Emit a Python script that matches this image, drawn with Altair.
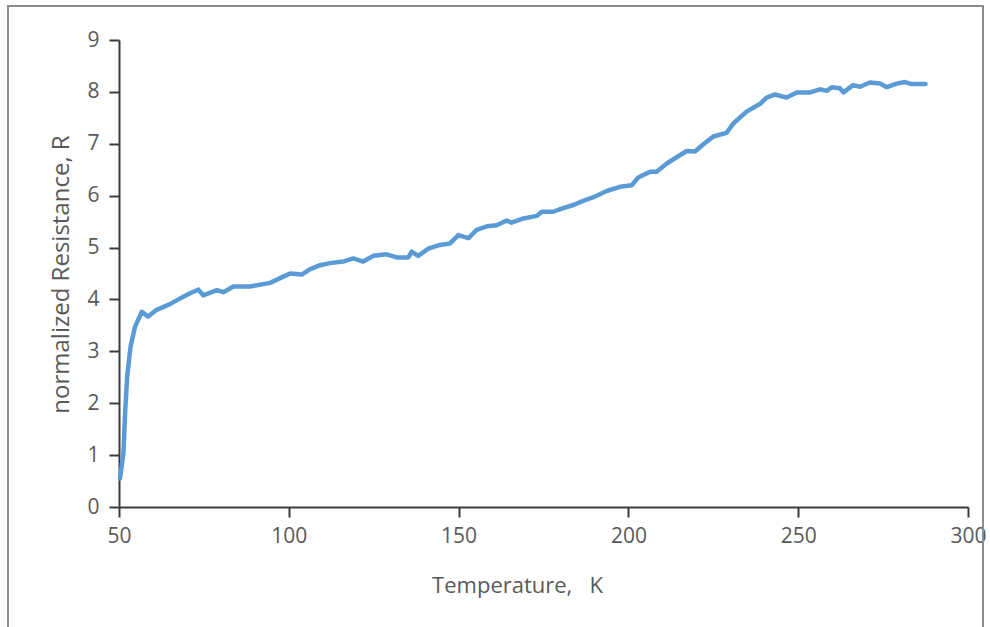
import altair as alt
import pandas as pd

# Temperature (K) and normalized resistance
temperature = [
    50.3, 51.3, 51.8, 52.4, 53.4, 54.7, 56.7, 58.6, 61.1, 65.0, 68.0, 70.9,
    73.4, 74.8, 78.8, 80.7, 83.7, 88.6, 94.5, 98.4, 100.4, 103.8, 106.2,
    109.2, 112.1, 116.0, 119.0, 121.9, 124.9, 128.8, 131.8, 135.2, 136.2,
    138.1, 141.1, 144.5, 147.5, 149.9, 152.9, 155.3, 158.3, 161.2, 164.2,
    165.6, 169.1, 173.0, 174.5, 177.9, 179.9, 183.8, 186.7, 189.7, 193.6,
    197.5, 201.0, 202.9, 206.4, 208.3, 211.3, 214.2, 217.2, 219.6, 222.1,
    225.0, 228.9, 230.9, 234.8, 238.8, 240.7, 243.2, 246.6, 249.6, 253.5,
    256.4, 258.4, 259.9, 262.3, 263.3, 266.2, 268.2, 271.1, 274.1, 276.1,
    279.0, 281.4, 283.4, 287.5,
]
resistance = [
    0.55, 1.03, 1.81, 2.51, 3.09, 3.47, 3.76, 3.67, 3.80, 3.91, 4.02, 4.12,
    4.19, 4.08, 4.18, 4.14, 4.25, 4.25, 4.32, 4.44, 4.50, 4.48, 4.58,
    4.66, 4.70, 4.73, 4.79, 4.73, 4.84, 4.87, 4.81, 4.81, 4.92,
    4.84, 4.98, 5.05, 5.08, 5.24, 5.18, 5.34, 5.41, 5.43, 5.52,
    5.48, 5.56, 5.61, 5.69, 5.69, 5.74, 5.82, 5.90, 5.97, 6.09,
    6.17, 6.20, 6.35, 6.46, 6.46, 6.62, 6.74, 6.86, 6.85, 6.99,
    7.14, 7.21, 7.39, 7.62, 7.77, 7.89, 7.95, 7.89, 7.99, 7.99,
    8.05, 8.02, 8.09, 8.07, 7.99, 8.13, 8.10, 8.18, 8.16, 8.09,
    8.16, 8.19, 8.15, 8.15,
]
x_ticks = [50, 100, 150, 200, 250, 300]
y_ticks = [0, 1, 2, 3, 4, 5, 6, 7, 8, 9]

df = pd.DataFrame({"T": temperature, "R": resistance})

FONT = "Open Sans"
TXT = "#595959"
AX = "#3a3a3a"

line = alt.Chart(df).mark_line(
    color="#5B9BD5", strokeWidth=4.5, strokeJoin="round", strokeCap="round"
).encode(
    x=alt.X(
        "T:Q",
        scale=alt.Scale(domain=[50, 300], nice=False, zero=False),
        axis=alt.Axis(
            values=x_ticks,
            title="Temperature,\u00a0\u00a0\u00a0K",
            titleX=398,
            titleY=78,
            titleAlign="center",
            titleBaseline="middle",
            labelPadding=8,
            labelFlush=False,
        ),
    ),
    y=alt.Y(
        "R:Q",
        scale=alt.Scale(domain=[0, 9], nice=False, zero=True),
        axis=alt.Axis(
            values=y_ticks,
            title="normalized Resistance, R",
            titleX=-58,
            titleY=234,
            titleAlign="center",
            titleBaseline="middle",
            titleFontSize=24,
            labelPadding=10,
            labelFlush=False,
        ),
    ),
)

frame = alt.Chart(pd.DataFrame({"a": [0]})).mark_rect(
    fill="transparent", stroke="#8c8c8c", strokeWidth=2
).encode(
    x=alt.value(-111), x2=alt.value(864), y=alt.value(-34), y2=alt.value(700)
)

chart = alt.layer(frame, line).properties(
    width=849,
    height=467,
    autosize=alt.AutoSizeParams(type="none"),
    padding={"left": 119, "top": 40, "right": 22, "bottom": 120},
    background="white",
).configure_view(strokeWidth=0).configure_axis(
    grid=False,
    domainColor=AX,
    domainWidth=2,
    tickColor=AX,
    tickWidth=2,
    tickSize=10,
    labelFont=FONT,
    labelFontSize=21,
    labelColor=TXT,
    titleFont=FONT,
    titleFontSize=22,
    titleFontWeight="normal",
    titleColor=TXT,
)

chart.save("out.html", embed_options={"renderer": "svg", "actions": False})
